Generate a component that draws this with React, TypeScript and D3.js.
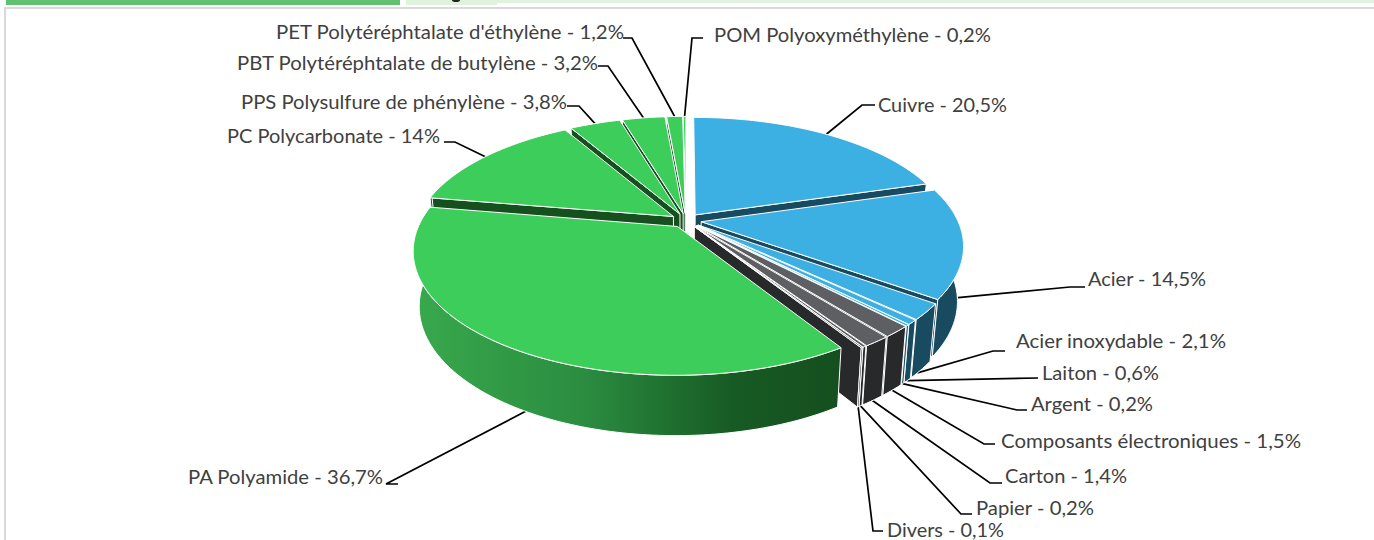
import { useMemo } from "react";
import * as d3 from "d3";

const materials = [
  "Cuivre", "Acier", "Acier inoxydable", "Laiton", "Argent",
  "Composants électroniques", "Carton", "Papier", "Divers",
  "PA Polyamide", "PC Polycarbonate", "PPS Polysulfure de phénylène",
  "PBT Polytéréphtalate de butylène", "PET Polytéréphtalate d'éthylène", "POM Polyoxyméthylène",
];
const shares = [20.5, 14.5, 2.1, 0.6, 0.2, 1.5, 1.4, 0.2, 0.1, 36.7, 14, 3.8, 3.2, 1.2, 0.2];
const families = [
  "metal", "metal", "metal", "metal", "metal",
  "other", "other", "other", "other",
  "plastic", "plastic", "plastic", "plastic", "plastic", "plastic",
];

// hand placed label boxes: left edge, baseline, width
const labelX = [878, 1088, 1016, 1042, 1031, 1001, 1005, 976, 887, 188, 227, 241, 237, 276, 714];
const labelY = [112, 286, 348, 380, 411, 448, 483, 515, 537, 484, 143, 109, 70, 39, 42];
const labelW = [129, 118, 210, 117, 122, 300, 122, 118, 117, 195, 213, 326, 361, 348, 277];
// leader lines: end next to the label, elbow, and where they land on the slice
const leaderStart = [875, 1085, 1005, 1038, 1027, 995, 1002, 972, 883, 398, 444, 567, 598, 623, 703];
const leaderElbow: [number, number][] = [
  [862, 105], [1070, 287], [993, 351], [1038, 378], [1017, 410], [984, 444], [990, 483],
  [961, 514], [873, 531], [386, 484], [455, 142], [579, 106], [608, 66], [632, 38], [692, 38],
];
const anchorAt = [0.5, 0.55, 0.7, 0.5, 0.5, 0.5, 0.5, 0.5, 0.5, 0.47, 0.5, 0.5, 0.5, 0.5, 0.5];
const anchorDrop = [0, 0.9, 1, 1, 1, 1, 1, 1, 1, 1, 0, 0, 0, 0, 0];

const drawOrder = [0, 1, 2, 3, 4, 5, 6, 7, 8, 14, 13, 12, 11, 10, 9];

const topColor = d3.scaleOrdinal<string, string>().domain(["metal", "other", "plastic"]).range(["#3db0e3", "#5e5f63", "#3ccd5a"]);
const sideColor = d3.scaleOrdinal<string, string>().domain(["metal", "other", "plastic"]).range(["#184a60", "#28292b", "#17501f"]);

const cx = 686;
const cy = 220.5;
const rx = 256.5;
const ry = 118;
const tilt = 0.19;
const depth = 54;
const shrink = 0.022;
const explode = 0.06;

type Pt = [number, number];

function project(u: number, v: number, z: number): Pt {
  const w = 1 - tilt * v;
  return [cx + (rx * u * (1 - shrink * z)) / w, cy + (ry * v) / w + z * depth * Math.sqrt(1 / w)];
}

const percent = (value: number) => String(value).replace(".", ",");

export default function App() {
  const slices = useMemo(() => {
    const arcs = d3.pie<number>().sort(null).startAngle(0).endAngle(2 * Math.PI)(shares);
    return arcs.map((arc, i) => {
      const mid = (arc.startAngle + arc.endAngle) / 2;
      const ox = explode * Math.sin(mid);
      const oy = -explode * Math.cos(mid);
      const rim = (angle: number, z: number) => project(ox + Math.sin(angle), oy - Math.cos(angle), z);
      const apex = (z: number) => project(ox, oy, z);
      const steps = Math.max(2, Math.ceil((arc.endAngle - arc.startAngle) / 0.02));
      const angles = d3.range(steps + 1).map((k) => arc.startAngle + ((arc.endAngle - arc.startAngle) * k) / steps);
      // only the front of the rim and the cut faces turned to the viewer can be seen
      const front = angles.filter((a) => Math.cos(a) < tilt);
      const target = arc.startAngle + (arc.endAngle - arc.startAngle) * anchorAt[i];
      const cut = (angle: number) => [apex(0), rim(angle, 0), rim(angle, 1), apex(1)];
      return {
        i,
        top: [apex(0), ...angles.map((a) => rim(a, 0))],
        wall: [...front.map((a) => rim(a, 0)), ...front.slice().reverse().map((a) => rim(a, 1))],
        faces: [
          ...(Math.sin(arc.startAngle) < 0 ? [cut(arc.startAngle)] : []),
          ...(Math.sin(arc.endAngle) > 0 ? [cut(arc.endAngle)] : []),
        ],
        anchor: rim(target, anchorDrop[i]),
      };
    });
  }, []);

  const poly = d3.line<Pt>().x((p) => p[0]).y((p) => p[1]);

  return (
    <svg width={1374} height={540} viewBox="0 0 1374 540" style={{ position: "absolute", left: 0, top: 0, display: "block" }}>
      <defs>
        <linearGradient id="plasticWall" x1="0" x2="1" y1="0" y2="0">
          <stop offset="0" stopColor="#38a94d" />
          <stop offset="0.4" stopColor="#2b8c40" />
          <stop offset="0.75" stopColor="#175a24" />
          <stop offset="1" stopColor="#154f1f" />
        </linearGradient>
      </defs>
      <rect width={1374} height={540} fill="#fff" />
      {/* bits of the page header cut off above the chart */}
      <rect x={6} y={0} width={394} height={5} fill="#5fc06f" />
      <rect x={406} y={0} width={91} height={5} fill="#dff3dc" />
      <rect x={497} y={0} width={877} height={3} fill="#dff3dc" />
      <ellipse cx={456} cy={0} rx={4} ry={2} fill="#222" />
      <path d="M1374 8H5V540" fill="none" stroke="#d9d9d9" strokeWidth={2} />

      {slices.map((s) => {
        const [ex, ey] = leaderElbow[s.i];
        const pts: Pt[] = [[leaderStart[s.i], ey], [ex, ey], s.anchor];
        return <path key={materials[s.i]} d={poly(pts) ?? ""} fill="none" stroke="#000" strokeWidth={1.7} />;
      })}

      {drawOrder.map((index) => {
        const s = slices[index];
        const fam = families[index];
        const side = sideColor(fam);
        return (
          <g key={materials[index]} stroke="#fff" strokeWidth={1} strokeLinejoin="round">
            {s.faces.map((face, k) => (
              <path key={k} d={`${poly(face as Pt[])}Z`} fill={side} />
            ))}
            {s.wall.length > 0 && (
              <path d={`${poly(s.wall as Pt[])}Z`} fill={materials[index] === "PA Polyamide" ? "url(#plasticWall)" : side} />
            )}
            <path d={`${poly(s.top as Pt[])}Z`} fill={topColor(fam)} />
          </g>
        );
      })}

      {materials.map((name, i) => (
        <text
          key={name}
          x={labelX[i]}
          y={labelY[i]}
          textLength={labelW[i]}
          lengthAdjust="spacingAndGlyphs"
          fontFamily="Lato, 'Open Sans', sans-serif"
          fontSize={19}
          fill="#404040"
        >
          {`${name} - ${percent(shares[i])}%`}
        </text>
      ))}
    </svg>
  );
}
